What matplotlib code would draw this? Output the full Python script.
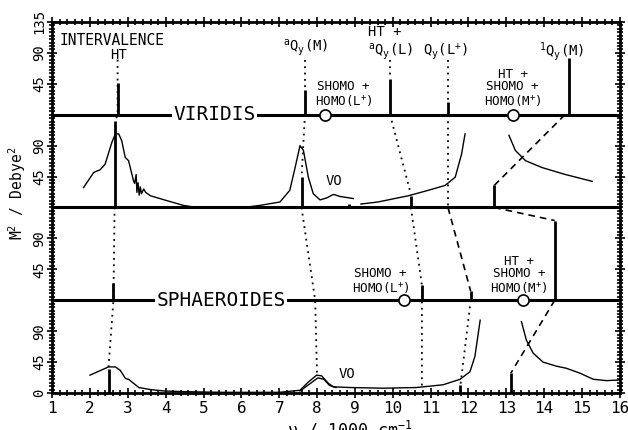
import numpy as np
import matplotlib.pyplot as plt
from matplotlib.ticker import MultipleLocator

plt.rcParams['font.family'] = ['DejaVu Sans Mono']
plt.rcParams['mathtext.default'] = 'regular'

# stacked panels, each 0-135 M^2/Debye^2
base_a, base_b, base_c, base_d = 405, 270, 135, 0

# viridis: stick spectrum (top panel)
vir_stick_x = [2.73, 7.68, 9.93, 11.46, 14.65]
vir_stick_y = [46, 36, 52, 19, 83]
vir_circle_x = [8.20, 13.17]

# viridis: computed spectrum
vir_b_stick_x = [2.65, 7.59, 8.85, 10.48, 12.68]
vir_b_stick_y = [126, 44, 5, 17, 32]
vir_curve1_x = [1.83, 2.10, 2.27, 2.40, 2.58, 2.67, 2.76, 2.84, 2.93, 3.02, 3.15, 3.18, 3.22, 3.24,
                3.27, 3.30, 3.33, 3.36, 3.42, 3.47, 3.60, 4.03, 4.47, 4.83, 5.5, 6.2, 6.49, 7.02,
                7.28, 7.42, 7.55, 7.64, 7.77, 7.90, 8.08, 8.26, 8.43, 8.61, 8.96]
vir_curve1_y = [29, 51, 55, 63, 95, 107, 107, 97, 73, 68, 39, 35, 48, 22,
                36, 18, 30, 20, 27, 22, 17, 10, 3, 0, 0, 1, 3, 8,
                25, 58, 90, 83, 44, 20, 11, 14, 19, 16, 13]
vir_curve2_x = [9.16, 9.61, 10.05, 10.41, 10.94, 11.38, 11.65, 11.82, 11.91]
vir_curve2_y = [5, 8, 13, 17, 25, 32, 44, 78, 107]
vir_curve3_x = [13.07, 13.24, 13.51, 13.95, 14.56, 15.27]
vir_curve3_y = [105, 83, 68, 58, 48, 38]

# sphaeroides: stick spectrum
sph_stick_x = [2.62, 10.77, 12.06, 14.28]
sph_stick_y = [25, 22, 13, 116]
sph_circle_x = [10.31, 13.43]

# sphaeroides: computed spectrum
sph_d_stick_x = [2.49, 11.79, 13.12]
sph_d_stick_y = [35, 12, 29]
sph_curve1_x = [2.0, 2.49, 2.67, 2.80, 2.94, 3.02, 3.29, 3.60, 3.95, 4.46, 5.5, 7.0, 7.55, 7.77,
                7.99, 8.12, 8.30, 8.43, 8.87, 9.75, 10.63, 11.33, 11.78, 12.04, 12.17, 12.26, 12.31]
sph_curve1_y = [26, 38, 38, 33, 21, 20, 8, 5, 3, 2, 1, 1, 4, 16,
                26, 25, 14, 9, 8, 7, 8, 12, 20, 31, 53, 87, 106]
sph_curve1b_x = [7.55, 7.80, 8.02, 8.18, 8.33, 8.50]
sph_curve1b_y = [3, 13, 22, 20, 11, 8]
sph_curve2_x = [13.40, 13.53, 13.71, 13.97, 14.33, 14.59, 14.94, 15.30, 15.65, 16.0]
sph_curve2_y = [104, 77, 58, 45, 39, 36, 29, 20, 18, 19]

# correlation lines (x, stacked y)
corr_dotted = [
    ([2.73, 2.73, 2.65], [485, 405, 394]),
    ([2.65, 2.62, 2.49], [270, 135, 38]),
    ([7.68, 7.68], [485, 441]),
    ([7.68, 7.59], [405, 314]),
    ([7.59, 7.95, 8.0], [270, 135, 26]),
    ([9.93, 9.93], [485, 457]),
    ([9.93, 10.48], [405, 289]),
    ([10.48, 10.77, 10.77], [270, 157, 8]),
    ([11.46, 11.46], [485, 424]),
    ([11.46, 11.46], [405, 270]),
    ([12.06, 11.79], [135, 12]),
]
corr_dashed = [
    ([11.46, 12.06], [270, 148]),
    ([14.55, 12.68], [405, 302]),
    ([12.68, 14.28], [270, 251]),
    ([14.28, 13.12], [135, 29]),
]

ytick_pos = [0, 45, 90, 180, 225, 315, 360, 450, 495, 540]
ytick_lab = ['0', '45', '90', '45', '90', '45', '90', '45', '90', '135']
xtick_pos = list(range(1, 17))

fig = plt.figure(figsize=(6.28, 4.30), dpi=100)
ax = fig.add_axes([0.083, 0.086, 0.904, 0.863])

ax.set_xlim(1, 16)
ax.set_ylim(0, 540)

# sticks
ax.vlines(vir_stick_x, base_a, base_a + np.array(vir_stick_y), color='k', lw=2)
ax.vlines(vir_b_stick_x, base_b, base_b + np.array(vir_b_stick_y), color='k', lw=2)
ax.vlines(sph_stick_x, base_c, base_c + np.array(sph_stick_y), color='k', lw=2)
ax.vlines(sph_d_stick_x, base_d, base_d + np.array(sph_d_stick_y), color='k', lw=2)

# spectra
for xs, ys, b in [(vir_curve1_x, vir_curve1_y, base_b), (vir_curve2_x, vir_curve2_y, base_b),
                  (vir_curve3_x, vir_curve3_y, base_b), (sph_curve1_x, sph_curve1_y, base_d),
                  (sph_curve1b_x, sph_curve1b_y, base_d), (sph_curve2_x, sph_curve2_y, base_d)]:
    ax.plot(xs, np.array(ys) + b, color='k', lw=1)

# separators
for b in [base_a, base_b, base_c]:
    ax.axhline(b, color='k', lw=2.2)

ax.plot(vir_circle_x, [base_a] * 2, 'o', mfc='white', mec='k', ms=8, mew=1.2, zorder=5)
ax.plot(sph_circle_x, [base_c] * 2, 'o', mfc='white', mec='k', ms=8, mew=1.2, zorder=5)

for xs, ys in corr_dotted:
    ax.plot(xs, ys, color='k', lw=1.3, ls=(0, (1, 2.5)))
for xs, ys in corr_dashed:
    ax.plot(xs, ys, color='k', lw=1.2, ls=(0, (4, 3)))

box = dict(facecolor='white', edgecolor='none', pad=1)
ax.text(5.3, base_a, 'VIRIDIS', ha='center', va='center', fontsize=14, bbox=box, zorder=6)
ax.text(5.47, base_c, 'SPHAEROIDES', ha='center', va='center', fontsize=14, bbox=box, zorder=6)

fs = 10
ax.text(1.2, 513, 'INTERVALENCE', ha='left', va='center', fontsize=10.5)
ax.text(2.75, 492, 'HT', ha='center', va='center', fontsize=fs)
ax.text(7.7, 502, r'$^{a}$Q$_{y}$(M)', ha='center', va='center', fontsize=fs)
ax.text(9.8, 525, 'HT +', ha='center', va='center', fontsize=fs)
ax.text(9.95, 497, r'$^{a}$Q$_{y}$(L)', ha='center', va='center', fontsize=fs)
ax.text(11.4, 497, r'Q$_{y}$(L$^{+}$)', ha='center', va='center', fontsize=fs)
ax.text(14.45, 497, r'$^{1}$Q$_{y}$(M)', ha='center', va='center', fontsize=fs)
ax.text(8.70, 435, 'SHOMO +\nHOMO(L$^{+}$)', ha='center', va='center', fontsize=9, linespacing=0.95)
ax.text(13.17, 444, 'HT +\nSHOMO +\nHOMO(M$^{+}$)', ha='center', va='center', fontsize=9, linespacing=0.95)
ax.text(9.68, 163, 'SHOMO +\nHOMO(L$^{+}$)', ha='center', va='center', fontsize=9, linespacing=0.95)
ax.text(13.33, 172, 'HT +\nSHOMO +\nHOMO(M$^{+}$)', ha='center', va='center', fontsize=9, linespacing=0.95)
ax.text(8.45, 309, 'VO', ha='center', va='center', fontsize=fs)
ax.text(8.8, 27, 'VO', ha='center', va='center', fontsize=fs)

ax.set_xticks(xtick_pos)
ax.xaxis.set_minor_locator(MultipleLocator(0.2))
ax.set_yticks(ytick_pos)
ax.set_yticklabels(ytick_lab, rotation=90, va='center')
ax.yaxis.set_minor_locator(MultipleLocator(5))
ax.tick_params(axis='both', which='both', direction='inout', top=True, right=True, width=1.2)
ax.tick_params(axis='both', which='major', length=7)
ax.tick_params(axis='x', which='major', labelsize=11.5, pad=2)
ax.tick_params(axis='y', which='major', labelsize=10, pad=1)
ax.tick_params(axis='both', which='minor', length=4)
for s in ax.spines.values():
    s.set_linewidth(2)

fig.text(0.557, 0.024, r'$\nu$ / 1000 cm$^{-1}$', ha='center', va='top', fontsize=12)
fig.text(0.028, 0.55, r'M$^{2}$ / Debye$^{2}$', ha='center', va='center', rotation=90, fontsize=10.5)

fig.savefig('out.png', dpi=100)
